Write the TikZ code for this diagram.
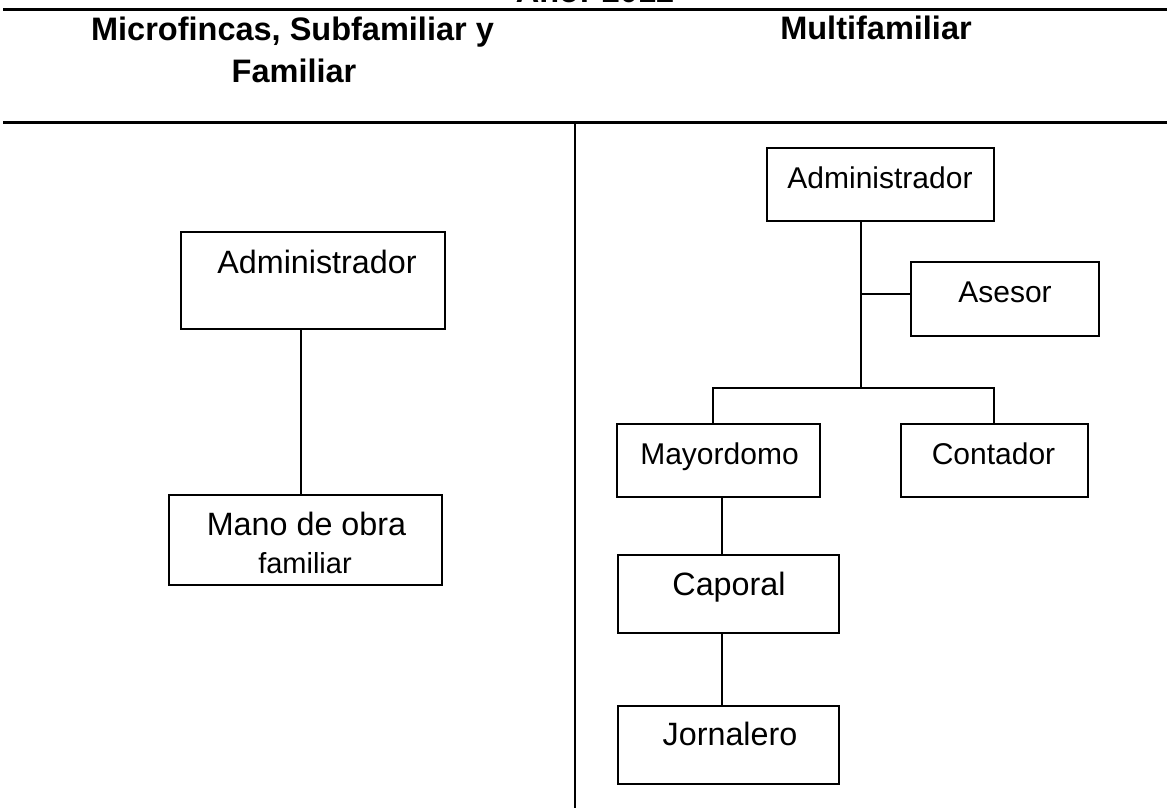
\documentclass[tikz,border=0pt]{standalone}
\usepackage{fontspec}
\setmainfont{Liberation Sans}
\begin{document}
\begin{tikzpicture}[x=1pt,y=-1pt,
  rule/.style={line width=2.2pt},
  box/.style={draw, line width=1.6pt, rectangle, inner sep=0pt},
  conn/.style={line width=1.5pt},
  hdr/.style={font=\fontsize{32.5}{42}\selectfont\bfseries, inner sep=0pt, anchor=base},
  tA/.style={font=\fontsize{32.3}{38}\selectfont, inner sep=0pt, anchor=base},
  tB/.style={font=\fontsize{30}{36}\selectfont, inner sep=0pt, anchor=base},
  tS/.style={font=\fontsize{29}{34}\selectfont, inner sep=0pt, anchor=base}]
\useasboundingbox[fill=white] (0,0) rectangle (1167,808);

% title (cut off at top edge, as in the reference)
\node[hdr] (yr) at (595,3) {Año: 2012};

% table rules
\draw[rule] (3,9.5) -- (1167,9.5);
\draw[rule] (3,122.5) -- (1167,122.5);
\draw[line width=1.5pt] (575,122.5) -- (575,808);

% headers
\node[hdr] (h1a) at (292.5,40.5) {Microfincas, Subfamiliar y};
\node[hdr] (h1b) at (294,82.5) {Familiar};
\node[hdr] (h2) at (876,39.5) {Multifamiliar};

% left chart
\node[box, minimum width=264pt, minimum height=97pt] (a1) at (313,280.5) {};
\node[tA] (a1t) at (317,273) {Administrador};
\node[box, minimum width=273pt, minimum height=90pt] (m1) at (305.5,540) {};
\node[tA] (m1t) at (306.5,535) {Mano de obra};
\node[tS] (m1s) at (305,573) {familiar};
\coordinate (lx) at (301,0);
\draw[conn] (a1.south -| lx) -- (m1.north -| lx);

% right chart
\node[box, minimum width=227pt, minimum height=73pt] (a2) at (880.5,184.5) {};
\node[tB] (a2t) at (880,188) {Administrador};
\node[box, minimum width=188pt, minimum height=74pt] (as) at (1005,299) {};
\node[tB] (ast) at (1005,302) {Asesor};
\node[box, minimum width=203pt, minimum height=73pt] (my) at (718.5,460.5) {};
\node[tB] (myt) at (719.5,464) {Mayordomo};
\node[box, minimum width=187pt, minimum height=73pt] (ct) at (994.5,460.5) {};
\node[tB] (ctt) at (993.5,464) {Contador};
\node[box, minimum width=221pt, minimum height=78pt] (cp) at (728.5,594) {};
\node[tA] (cpt) at (729,595) {Caporal};
\node[box, minimum width=221pt, minimum height=78pt] (jo) at (728.5,745) {};
\node[tA] (jot) at (730,745) {Jornalero};

\coordinate (tx) at (861,0);
\coordinate (bar) at (861,388);
\coordinate (ab) at (861,294);
\coordinate (mx) at (713,0);
\coordinate (cx) at (994,0);
\coordinate (kx) at (722,0);
\draw[conn] (a2.south -| tx) -- (bar);
\draw[conn] (ab) -- (ab -| as.west);
\draw[conn] (my.north -| mx) |- (bar) -| (ct.north -| cx);
\draw[conn] (my.south -| kx) -- (cp.north -| kx);
\draw[conn] (cp.south -| kx) -- (jo.north -| kx);
\end{tikzpicture}
\end{document}
